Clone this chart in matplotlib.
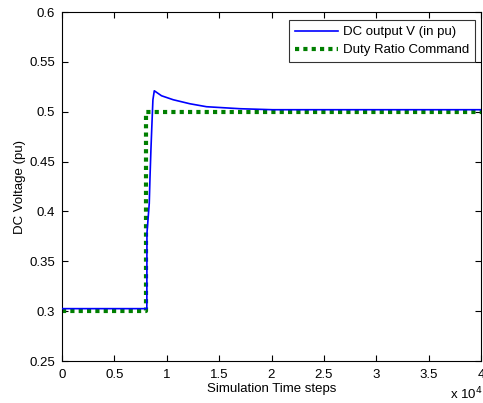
import matplotlib
matplotlib.use("Agg")
import matplotlib.pyplot as plt
from matplotlib.ticker import FuncFormatter

plt.rcParams['font.family'] = ['Liberation Sans', 'DejaVu Sans']

# Data (time steps, voltage in pu)
dc_t = [0, 8100, 8110, 8330, 8400, 8490, 8590, 8680, 8810, 9500, 10620, 12200,
        13800, 15400, 17000, 20100, 40000]
dc_v = [0.3025, 0.3025, 0.378, 0.408, 0.434, 0.462, 0.489, 0.512, 0.521, 0.516,
        0.512, 0.508, 0.505, 0.504, 0.503, 0.502, 0.502]

duty_t = [0, 8000, 8000, 40000]
duty_v = [0.300, 0.300, 0.500, 0.500]

xticks = [0, 5000, 10000, 15000, 20000, 25000, 30000, 35000, 40000]
yticks = [0.25, 0.3, 0.35, 0.4, 0.45, 0.5, 0.55, 0.6]

FS = 9.5

fig = plt.figure(figsize=(4.83, 4.03), dpi=100)
ax = fig.add_axes([62/483, 42/403, 419/483, 349/403])

ax.plot(dc_t, dc_v, color='#0000ff', lw=1.2, label='DC output V (in pu)', zorder=3)
ax.plot(duty_t, duty_v, color='#007f00', lw=3.0, dashes=(1, 1),
        dash_capstyle='butt', label='Duty Ratio Command', zorder=2)

ax.set_xlim(0, 40000)
ax.set_ylim(0.25, 0.6)
ax.set_xticks(xticks)
ax.set_yticks(yticks)
ax.xaxis.set_major_formatter(FuncFormatter(lambda v, p: f"{v/1e4:g}"))
ax.yaxis.set_major_formatter(FuncFormatter(lambda v, p: f"{v:g}"))
ax.tick_params(direction='in', top=True, right=True, length=4, width=0.8,
               labelsize=FS, colors='black')
ax.tick_params(axis='x', pad=5.5)
ax.tick_params(axis='y', pad=5)
for s in ax.spines.values():
    s.set_linewidth(0.8)
    s.set_color('black')

ax.set_xlabel('Simulation Time steps', fontsize=FS, labelpad=2)
ax.set_ylabel('DC Voltage (pu)', fontsize=FS, labelpad=2.5)
fig.text(450/483, 1/403, r'x 10$^4$', fontsize=FS, ha='left', va='bottom')

leg = ax.legend(loc='upper right', bbox_to_anchor=(475/483, 1 - 20/403),
                bbox_transform=fig.transFigure, borderaxespad=0,
                fontsize=FS, frameon=True, fancybox=False,
                edgecolor='black', handlelength=3.2, handletextpad=0.4,
                borderpad=0.45, labelspacing=0.45)
leg.get_frame().set_linewidth(0.8)

fig.savefig('out.png', dpi=100)
